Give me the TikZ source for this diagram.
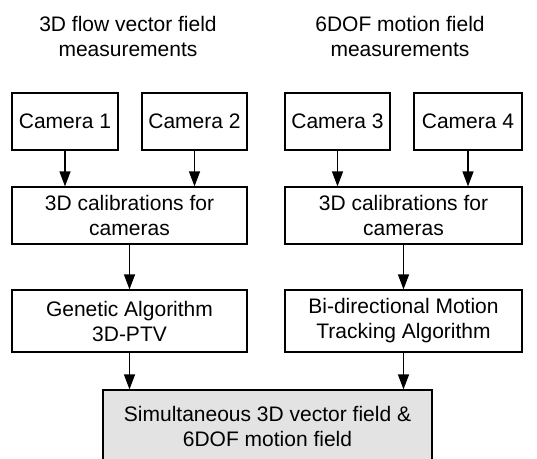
\documentclass[tikz,border=0pt]{standalone}
\usepackage{fontspec}
\setmainfont{Liberation Sans}
\usetikzlibrary{arrows.meta}

\begin{document}
\begin{tikzpicture}[x=1pt,y=-1pt,every node/.style={font=\fontsize{21}{25}\selectfont},
    box/.style={draw,line width=1.2pt,align=center,inner sep=0pt},
    flow/.style={-{Triangle[length=15pt,width=11pt]},line width=1.2pt}]
            \useasboundingbox (0,0) rectangle (537,458);
            \node[align=center] (t1) at (128,36) {3D flow vector field\\measurements};
            \node[align=center] (t2) at (400,36) {6DOF motion field\\measurements};
            \node[box,minimum width=106pt,minimum height=57pt] (c1) at (65,121.5) {Camera 1};
            \node[box,minimum width=105pt,minimum height=57pt] (c2) at (194.5,121.5) {Camera 2};
            \node[box,minimum width=105pt,minimum height=57pt] (c3) at (337.5,121.5) {Camera 3};
            \node[box,minimum width=108pt,minimum height=57pt] (c4) at (468,121.5) {Camera 4};
            \node[box,minimum width=235pt,minimum height=57pt] (cal1) at (129.5,215.5) {3D calibrations for\\cameras};
            \node[box,minimum width=237pt,minimum height=57pt] (cal2) at (403.5,215.5) {3D calibrations for\\cameras};
            \node[box,minimum width=235pt,minimum height=62pt] (ga) at (129.5,321) {Genetic Algorithm\\3D-PTV};
            \node[box,minimum width=237pt,minimum height=62pt] (bi) at (403.5,321) {Bi-directional Motion\\Tracking Algorithm};
            \node[box,fill=black!11,minimum width=329pt,minimum height=72pt] (fin) at (267.5,426) {Simultaneous 3D vector field \&\\6DOF motion field};
            \draw[flow] (c1) -- (c1 |- cal1.north);
            \draw[flow] (c2) -- (c2 |- cal1.north);
            \draw[flow] (c3) -- (c3 |- cal2.north);
            \draw[flow] (c4) -- (c4 |- cal2.north);
            \draw[flow] (cal1) -- (ga);
            \draw[flow] (cal2) -- (bi);
            \draw[flow] (ga) -- (ga |- fin.north);
            \draw[flow] (bi) -- (bi |- fin.north);
        \end{tikzpicture}
\end{document}
